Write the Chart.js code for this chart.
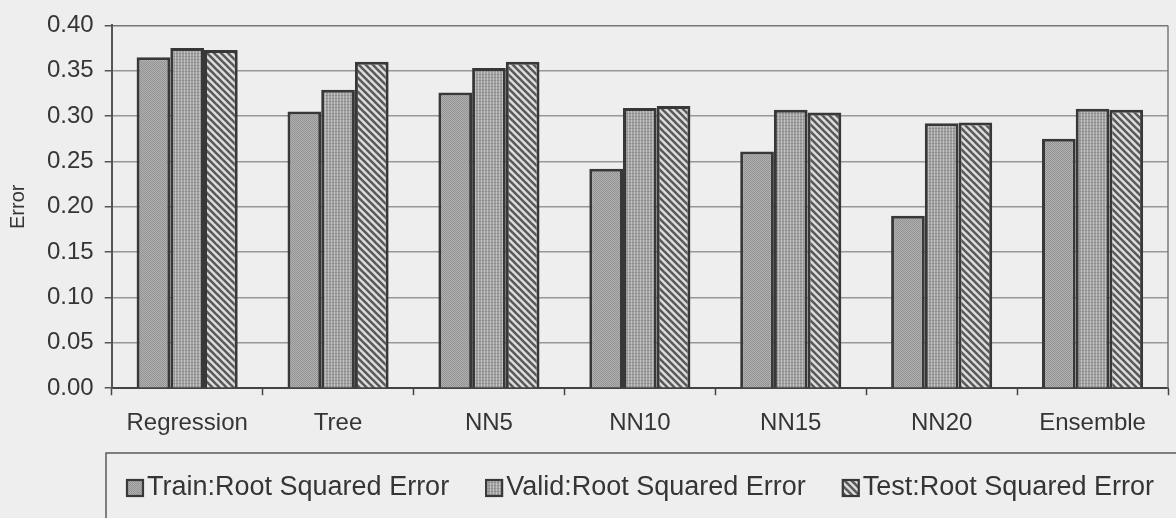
<!DOCTYPE html>
<html>
<head>
<meta charset="utf-8">
<script src="https://cdn.jsdelivr.net/npm/chart.js@4/dist/chart.umd.min.js"></script>
<style>
  html, body { margin: 0; padding: 0; background: #eeeeee; }
  #wrap { width: 1176px; height: 518px; position: relative; }
</style>
</head>
<body>
<div id="wrap"><canvas id="chart"></canvas></div>
<script>
// Model comparison: root squared error per partition
const categories = ['Regression', 'Tree', 'NN5', 'NN10', 'NN15', 'NN20', 'Ensemble'];
const trainRSE = [0.365, 0.305, 0.326, 0.242, 0.261, 0.190, 0.275];
const validRSE = [0.375, 0.329, 0.353, 0.309, 0.307, 0.292, 0.308];
const testRSE  = [0.373, 0.360, 0.360, 0.311, 0.304, 0.293, 0.307];
const seriesLabels = ['Train:Root Squared Error', 'Valid:Root Squared Error', 'Test:Root Squared Error'];
const yAxisTitle = 'Error';
const yMin = 0, yMax = 0.40, yStep = 0.05;

const FONT = "'Liberation Sans', Arial, sans-serif";
const TEXT = '#353535';
const EDGE = '#383838';

// Monochrome fill textures for the three series
function makePattern(kind) {
  const c = document.createElement('canvas');
  const g = c.getContext('2d');
  if (kind === 'dots') {
    c.width = 2; c.height = 2;
    g.fillStyle = '#b0b0b0'; g.fillRect(0, 0, 2, 2);
    g.fillStyle = '#939393'; g.fillRect(0, 0, 1, 1); g.fillRect(1, 1, 1, 1);
  } else if (kind === 'vlines') {
    c.width = 3; c.height = 3;
    g.fillStyle = '#a0a0a0'; g.fillRect(0, 0, 3, 3);
    g.fillStyle = '#c3c3c3'; g.fillRect(1, 0, 1, 3);
    g.fillStyle = '#8e8e8e'; g.fillRect(0, 2, 3, 1);
    g.fillStyle = '#acacac'; g.fillRect(1, 2, 1, 1);
  } else {
    const s = 7;
    c.width = s; c.height = s;
    g.fillStyle = '#dedede'; g.fillRect(0, 0, s, s);
    g.strokeStyle = '#5a5a5a'; g.lineWidth = 2.6;
    for (let k = -1; k <= 1; k++) {
      g.beginPath();
      g.moveTo(k * s - 1, -1);
      g.lineTo(k * s + s + 1, s + 1);
      g.stroke();
    }
  }
  return g.createPattern(c, 'repeat');
}
const fills = [makePattern('dots'), makePattern('vlines'), makePattern('diag')];

const background = {
  id: 'background',
  beforeDraw(chart) {
    const ctx = chart.ctx;
    ctx.save();
    ctx.fillStyle = '#eeeeee';
    ctx.fillRect(0, 0, chart.width, chart.height);
    ctx.restore();
  }
};

// Frame on the right edge of the plot area
const plotFrame = {
  id: 'plotFrame',
  afterDatasetsDraw(chart) {
    const { ctx, chartArea: a } = chart;
    ctx.save();
    ctx.strokeStyle = '#7a7a7a';
    ctx.lineWidth = 1.5;
    ctx.beginPath();
    ctx.moveTo(a.right, a.top);
    ctx.lineTo(a.right, a.bottom);
    ctx.stroke();
    ctx.restore();
  }
};

// Boxed legend along the bottom
const boxedLegend = {
  id: 'boxedLegend',
  afterDraw(chart) {
    const ctx = chart.ctx;
    const boxLeft = 106, boxTop = 453;
    ctx.save();
    ctx.strokeStyle = '#5a5a5a';
    ctx.lineWidth = 1.5;
    ctx.beginPath();
    ctx.moveTo(chart.width, boxTop);
    ctx.lineTo(boxLeft, boxTop);
    ctx.lineTo(boxLeft, chart.height);
    ctx.stroke();

    ctx.font = '27px ' + FONT;
    ctx.textBaseline = 'middle';
    const cy = 488, sz = 16;
    let x = 127;
    chart.data.datasets.forEach((ds) => {
      ctx.fillStyle = ds.backgroundColor;
      ctx.fillRect(x, cy - sz / 2, sz, sz);
      ctx.strokeStyle = EDGE;
      ctx.lineWidth = 2.2;
      ctx.strokeRect(x, cy - sz / 2, sz, sz);
      ctx.fillStyle = TEXT;
      ctx.fillText(ds.label, x + sz + 4, cy);
      x += sz + 4 + ctx.measureText(ds.label).width + 37;
    });
    ctx.restore();
  }
};

const seriesValues = [trainRSE, validRSE, testRSE];

new Chart(document.getElementById('chart'), {
  type: 'bar',
  data: {
    labels: categories,
    datasets: seriesValues.map((vals, i) => ({
      label: seriesLabels[i],
      data: vals,
      backgroundColor: fills[i],
      borderColor: EDGE,
      borderWidth: 3,
      categoryPercentage: 0.67,
      barPercentage: 1.0
    }))
  },
  options: {
    responsive: true,
    maintainAspectRatio: false,
    animation: false,
    layout: { padding: { left: 4, right: 8, top: 21, bottom: 66 } },
    plugins: {
      legend: { display: false },
      tooltip: { enabled: false }
    },
    scales: {
      x: {
        offset: true,
        grid: {
          offset: true,
          drawOnChartArea: false,
          drawTicks: true,
          tickLength: 7,
          tickColor: '#444444',
          tickWidth: 1.5
        },
        border: { display: true, color: '#444444', width: 2 },
        ticks: { color: TEXT, font: { family: FONT, size: 24 }, padding: 14 }
      },
      y: {
        min: yMin,
        max: yMax,
        grid: {
          color: (c) => (c.tick && Math.abs(c.tick.value - yMax) < 1e-9) ? '#777777' : '#979797',
          lineWidth: 1.5,
          drawTicks: true,
          tickLength: 7,
          tickColor: '#555555',
          tickWidth: 1.5
        },
        border: { display: true, color: '#555555', width: 2 },
        ticks: {
          stepSize: yStep,
          color: TEXT,
          font: { family: FONT, size: 24 },
          padding: 11,
          callback: (v) => Number(v).toFixed(2)
        },
        title: {
          display: true,
          text: yAxisTitle,
          color: TEXT,
          font: { family: FONT, size: 20 },
          padding: { top: 2, bottom: 6 }
        }
      }
    }
  },
  plugins: [background, plotFrame, boxedLegend]
});
</script>
</body>
</html>
